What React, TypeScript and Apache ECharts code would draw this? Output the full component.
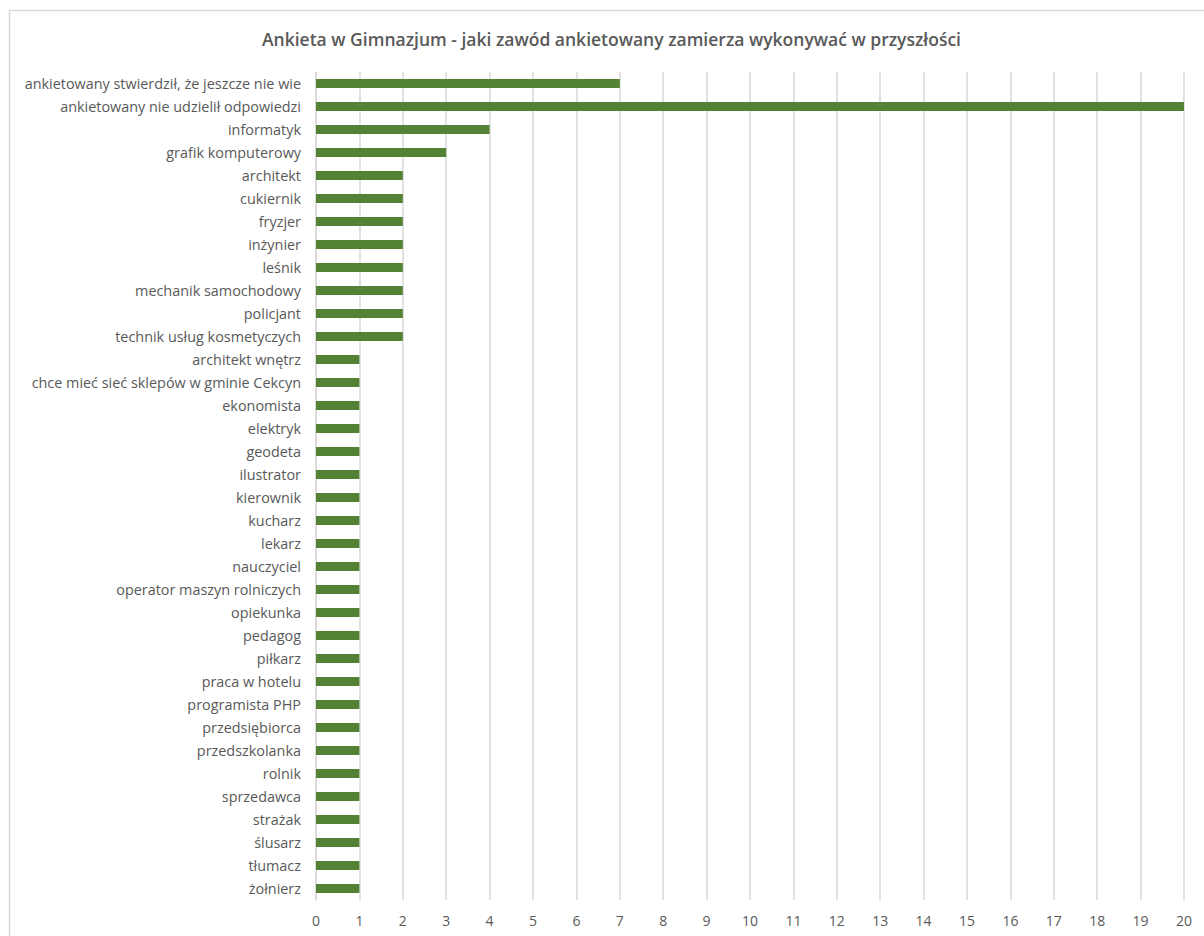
import React, { useEffect, useRef } from "react";
import * as echarts from "echarts";

const categories = [
  "ankietowany stwierdził, że jeszcze nie wie",
  "ankietowany nie udzielił odpowiedzi",
  "informatyk",
  "grafik komputerowy",
  "architekt",
  "cukiernik",
  "fryzjer",
  "inżynier",
  "leśnik",
  "mechanik samochodowy",
  "policjant",
  "technik usług kosmetyczych",
  "architekt wnętrz",
  "chce mieć sieć sklepów w gminie Cekcyn",
  "ekonomista",
  "elektryk",
  "geodeta",
  "ilustrator",
  "kierownik",
  "kucharz",
  "lekarz",
  "nauczyciel",
  "operator maszyn rolniczych",
  "opiekunka",
  "pedagog",
  "piłkarz",
  "praca w hotelu",
  "programista PHP",
  "przedsiębiorca",
  "przedszkolanka",
  "rolnik",
  "sprzedawca",
  "strażak",
  "ślusarz",
  "tłumacz",
  "żołnierz",
];

const values = [7, 20, 4, 3, 2, 2, 2, 2, 2, 2, 2, 2, 1, 1, 1, 1, 1, 1, 1, 1, 1, 1, 1, 1, 1, 1, 1, 1, 1, 1, 1, 1, 1, 1, 1, 1];

const title = "Ankieta w Gimnazjum - jaki zawód ankietowany zamierza wykonywać w przyszłości";

export default function App() {
  const ref = useRef<HTMLDivElement>(null);
  useEffect(() => {
    if (!ref.current) return;
    const chart = echarts.init(ref.current, undefined, { renderer: "svg" });
    chart.setOption({
      animation: false,
      backgroundColor: "#ffffff",
      textStyle: { fontFamily: "Open Sans" },
      title: {
        text: title,
        left: 257,
        top: 25,
        textStyle: { fontFamily: "Open Sans", fontSize: 17.5, fontWeight: 600, color: "#595959" },
      },
      graphic: [
        {
          type: "rect",
          shape: { x: 9.5, y: 10.5, width: 1300, height: 1000 },
          style: { fill: "none", stroke: "#d9d9d9", lineWidth: 1.5 },
          silent: true,
        },
      ],
      grid: { left: 316, right: 20, top: 72, bottom: 36, containLabel: false },
      xAxis: {
        type: "value",
        min: 0,
        max: 20,
        interval: 1,
        axisLine: { show: false },
        axisTick: { show: false },
        splitLine: { show: true, lineStyle: { color: "#d9d9d9", width: 1.5 } },
        axisLabel: { color: "#595959", fontSize: 14, margin: 13, fontFamily: "Open Sans" },
      },
      yAxis: {
        type: "category",
        data: categories,
        inverse: true,
        axisLine: { show: true, lineStyle: { color: "#d9d9d9", width: 1.5 } },
        axisTick: { show: false },
        axisLabel: { color: "#595959", fontSize: 14.4, margin: 15, fontFamily: "Open Sans", interval: 0 },
      },
      series: [
        {
          type: "bar",
          data: values,
          barWidth: 9,
          itemStyle: { color: "#548235" },
        },
      ],
    });
    return () => chart.dispose();
  }, []);
  return (
    <div
      ref={ref}
      style={{ position: "absolute", left: 0, top: 0, width: 1204, height: 936 }}
    />
  );
}
